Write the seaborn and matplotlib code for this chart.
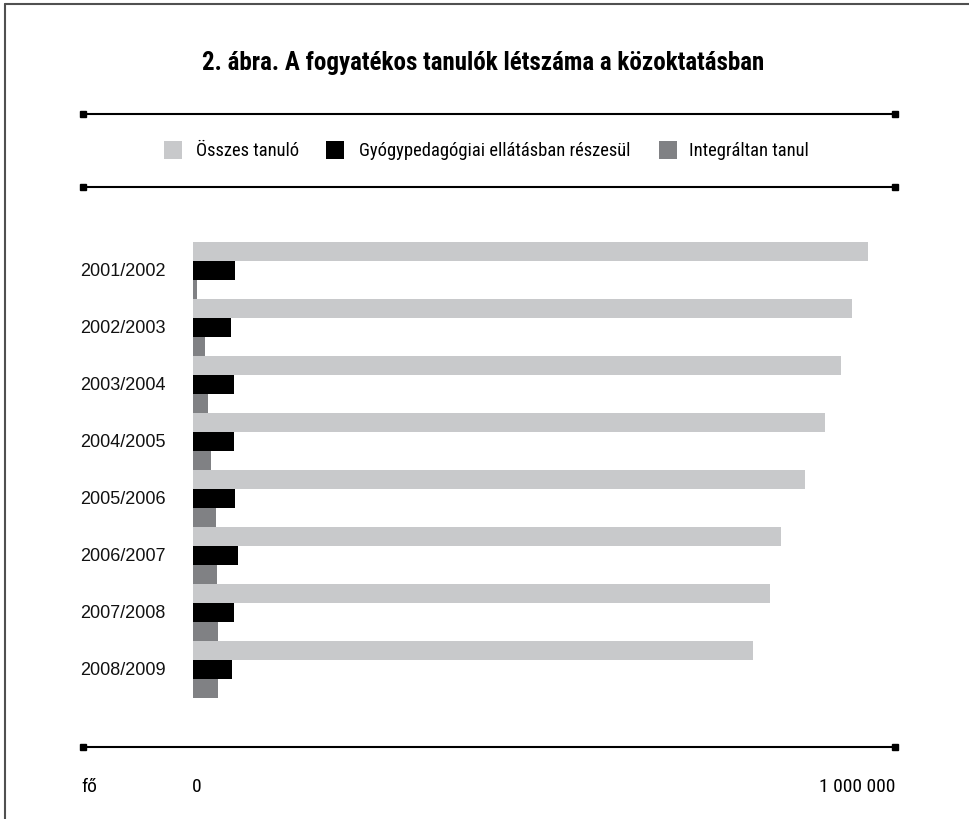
import matplotlib
matplotlib.use("Agg")
import matplotlib.pyplot as plt
from matplotlib.lines import Line2D
from matplotlib.patches import Rectangle
from matplotlib import font_manager
import pandas as pd
import seaborn as sns

years = ["2001/2002", "2002/2003", "2003/2004", "2004/2005",
         "2005/2006", "2006/2007", "2007/2008", "2008/2009"]
series = ["Összes tanuló", "Gyógypedagógiai ellátásban részesül", "Integráltan tanul"]
osszes = [958800, 936000, 920500, 897700, 869300, 835200, 819600, 795500]
gyogyped = [59700, 54000, 58200, 58200, 59700, 63900, 58200, 55400]
integralt = [5700, 17000, 21300, 25600, 32700, 34100, 35500, 35500]
colors = ["#c8c9cb", "#000000", "#808184"]

df = pd.DataFrame({
    "year": years * 3,
    "series": [series[0]] * 8 + [series[1]] * 8 + [series[2]] * 8,
    "value": osszes + gyogyped + integralt,
})

sns.set_style("white")
installed = {f.name for f in font_manager.fontManager.ttflist}
narrow = [f for f in ["Liberation Sans Narrow", "Roboto Condensed", "Open Sans Condensed"]
          if f in installed] + ["DejaVu Sans"]
plain = ["Liberation Sans", "DejaVu Sans"]
plt.rcParams["font.family"] = plain
plt.rcParams["text.color"] = "black"

W, H = 969, 820
fig = plt.figure(figsize=(W / 100, H / 100), dpi=100)
ax = fig.add_axes([193 / W, 1 - 699 / H, (897 - 193) / W, (699 - 243) / H])

sns.barplot(data=df, y="year", x="value", hue="series", hue_order=series,
            palette=colors, orient="h", width=1.0, saturation=1, dodge=True,
            linewidth=0, ax=ax, legend=False)
ax.set_xlim(0, 1000000)
ax.set_ylim(len(years) - 0.5, -0.5)
sns.despine(ax=ax, left=True, bottom=True)
ax.set_xticks([])
ax.set_yticks([])
ax.set_xlabel("")
ax.set_ylabel("")

# category labels on the left
trans = matplotlib.transforms.blended_transform_factory(fig.transFigure, ax.transData)
for i, y in enumerate(years):
    ax.text(80 / W, i, y, transform=trans, ha="left", va="center",
            fontsize=13, color="#111111", family=plain)

# title
fig.text(483 / W, 1 - 63 / H, "2. ábra. A fogyatékos tanulók létszáma a közoktatásban",
         ha="center", va="center", fontsize=18, fontweight="bold", family=narrow,
         fontstretch="condensed")

# rule lines with square ends
for yp in [115, 188, 748]:
    fig.add_artist(Line2D([83 / W, 895 / W], [1 - yp / H, 1 - yp / H], color="black",
                          lw=1.5, marker="s", markersize=4.5, markevery=[0, 1]))

# legend, placed by hand like the original
legend_pos = [(164, 196), (326, 359), (659, 689)]
for (sx, tx), c, name in zip(legend_pos, colors, series):
    fig.add_artist(Rectangle((sx / W, 1 - 160 / H), 18 / W, 18 / H,
                             transform=fig.transFigure, facecolor=c, edgecolor="none"))
    fig.text(tx / W, 1 - 151 / H, name, ha="left", va="center", fontsize=13.3,
             family=narrow, fontstretch="condensed")

# bottom axis labels
for xp, s, ha in [(81, "fő", "left"), (192, "0", "left"), (895, "1 000 000", "right")]:
    fig.text(xp / W, 1 - 787 / H, s, ha=ha, va="center", fontsize=14, family=narrow,
             fontstretch="condensed")

# outer frame (top and left only)
fig.add_artist(Line2D([4.5 / W, 1], [1 - 4.5 / H, 1 - 4.5 / H], color="#505050", lw=1.5))
fig.add_artist(Line2D([4.5 / W, 4.5 / W], [0, 1 - 4.5 / H], color="#505050", lw=1.5))

fig.savefig("out.png", dpi=100)
